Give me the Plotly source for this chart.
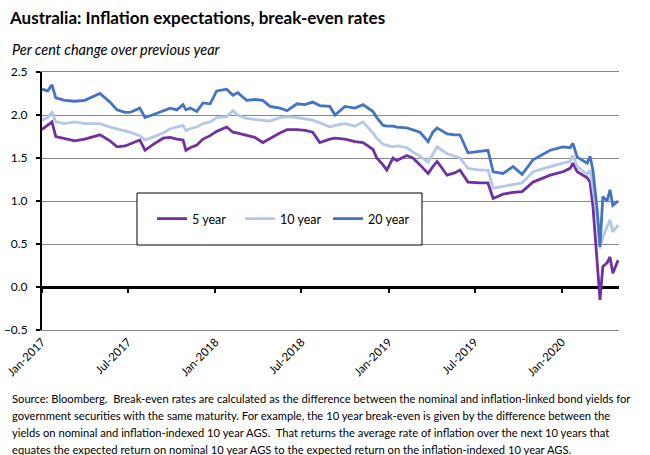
import plotly.graph_objects as go

dates = [
    "2017-01-01", "2017-01-13", "2017-01-22", "2017-01-30", "2017-02-18", "2017-03-11",
    "2017-04-01", "2017-05-03", "2017-05-24", "2017-06-08", "2017-06-25", "2017-07-05",
    "2017-07-26", "2017-08-06", "2017-08-21", "2017-09-13", "2017-09-28", "2017-10-12",
    "2017-10-25", "2017-10-31", "2017-11-09", "2017-11-23", "2017-12-06", "2017-12-21",
    "2018-01-04", "2018-01-25", "2018-02-07", "2018-02-17", "2018-03-08", "2018-03-25",
    "2018-04-11", "2018-04-26", "2018-05-17", "2018-06-01", "2018-06-22", "2018-07-09",
    "2018-07-25", "2018-08-09", "2018-08-30", "2018-09-10", "2018-10-01", "2018-10-22",
    "2018-11-08", "2018-11-29", "2018-12-07", "2018-12-20", "2018-12-28", "2019-01-10",
    "2019-01-18", "2019-02-08", "2019-02-21", "2019-03-08", "2019-03-25", "2019-04-04",
    "2019-04-13", "2019-05-04", "2019-05-21", "2019-05-31", "2019-06-17", "2019-07-12",
    "2019-07-29", "2019-08-09", "2019-08-30", "2019-09-20", "2019-10-09", "2019-11-01",
    "2019-11-22", "2019-12-07", "2020-01-03", "2020-01-18", "2020-01-24", "2020-02-02",
    "2020-02-23", "2020-02-29", "2020-03-06", "2020-03-10", "2020-03-15", "2020-03-21",
    "2020-03-27", "2020-04-05", "2020-04-11", "2020-04-17", "2020-04-28",
]

yr20 = [
    2.30, 2.28, 2.35, 2.20, 2.17, 2.16,
    2.17, 2.25, 2.15, 2.06, 2.03, 2.03,
    2.08, 1.97, 2.00, 2.05, 2.08, 2.06,
    2.12, 2.06, 2.08, 2.04, 2.14, 2.13,
    2.28, 2.30, 2.23, 2.26, 2.17, 2.18,
    2.17, 2.10, 2.08, 2.05, 2.13, 2.12,
    2.15, 2.11, 2.10, 2.00, 2.10, 2.08,
    2.12, 2.04, 1.97, 1.88, 1.87, 1.87,
    1.86, 1.85, 1.83, 1.80, 1.69, 1.80,
    1.85, 1.78, 1.77, 1.77, 1.56, 1.58,
    1.59, 1.34, 1.32, 1.40, 1.31, 1.48,
    1.55, 1.59, 1.63, 1.62, 1.67, 1.51,
    1.44, 1.52, 1.36, 1.15, 0.90, 0.47,
    1.05, 1.00, 1.13, 0.95, 1.00,
]

yr10 = [
    1.94, 1.97, 2.03, 1.92, 1.90, 1.92,
    1.90, 1.90, 1.86, 1.84, 1.81, 1.80,
    1.76, 1.71, 1.74, 1.79, 1.84, 1.86,
    1.88, 1.82, 1.84, 1.86, 1.90, 1.92,
    1.97, 1.98, 2.05, 2.00, 1.96, 1.95,
    1.94, 1.93, 1.97, 1.98, 1.97, 1.95,
    1.94, 1.91, 1.86, 1.88, 1.90, 1.87,
    1.92, 1.79, 1.73, 1.66, 1.65, 1.63,
    1.64, 1.62, 1.57, 1.52, 1.45, 1.55,
    1.63, 1.55, 1.52, 1.50, 1.38, 1.36,
    1.36, 1.15, 1.17, 1.19, 1.21, 1.34,
    1.38, 1.40, 1.44, 1.46, 1.53, 1.40,
    1.31, 1.36, 1.15, 1.00, 0.82, 0.45,
    0.58, 0.70, 0.78, 0.64, 0.72,
]

yr5 = [
    1.83, 1.88, 1.92, 1.75, 1.73, 1.70,
    1.72, 1.77, 1.70, 1.63, 1.64, 1.66,
    1.71, 1.59, 1.65, 1.73, 1.74, 1.72,
    1.71, 1.59, 1.62, 1.65, 1.72, 1.76,
    1.81, 1.86, 1.80, 1.79, 1.76, 1.74,
    1.68, 1.73, 1.79, 1.83, 1.83, 1.82,
    1.80, 1.68, 1.72, 1.73, 1.72, 1.69,
    1.68, 1.60, 1.50, 1.42, 1.36, 1.50,
    1.47, 1.53, 1.50, 1.42, 1.32, 1.40,
    1.46, 1.30, 1.33, 1.36, 1.22, 1.21,
    1.21, 1.03, 1.08, 1.10, 1.11, 1.22,
    1.27, 1.30, 1.34, 1.38, 1.44, 1.34,
    1.27, 1.22, 0.95, 0.63, 0.25, -0.15,
    0.24, 0.28, 0.35, 0.16, 0.31,
]

series_names = ["5 year", "10 year", "20 year"]
series_colors = ["#7030A0", "#B4C7E7", "#4472C4"]

tick_dates = ["2017-01-01", "2017-07-01", "2018-01-01", "2018-07-01",
              "2019-01-01", "2019-07-01", "2020-01-01"]
tick_labels = ["Jan-2017", "Jul-2017", "Jan-2018", "Jul-2018",
               "Jan-2019", "Jul-2019", "Jan-2020"]
y_ticks = [-0.5, 0.0, 0.5, 1.0, 1.5, 2.0, 2.5]

title_text = "Australia: Inflation expectations, break-even rates"
subtitle_text = "Per cent change over previous year"
source_lines = [
    "Source: Bloomberg.  Break-even rates are calculated as the difference between the nominal and inflation-linked bond yields for",
    "government securities with the same maturity. For example, the 10 year break-even is given by the difference between the",
    "yields on nominal and inflation-indexed 10 year AGS.  That returns the average rate of inflation over the next 10 years that",
    "equates the expected return on nominal 10 year AGS to the expected return on the inflation-indexed 10 year AGS.",
]

FONT = "Lato"
x_range = ["2017-01-01", "2020-04-30"]

W, H = 650, 455
PL, PT, PW, PH = 42, 72, 577, 258  # plot area in pixels


def px_x(X):  # window x -> paper x
    return (X - PL) / PW


def px_y(Y):  # window y -> paper y
    return (PT + PH - Y) / PH


fig = go.Figure()
for name, vals, col, xa in zip(series_names, [yr5, yr10, yr20], series_colors, ["x", "x", "x2"]):
    fig.add_trace(go.Scatter(x=dates, y=vals, name=name, mode="lines",
                             line=dict(color=col, width=2.8), xaxis=xa))

fig.update_layout(
    width=W, height=H,
    margin=dict(l=PL, r=W - PL - PW, t=PT, b=H - PT - PH),
    paper_bgcolor="white", plot_bgcolor="white",
    font=dict(family=FONT, color="black", size=11),
    title=dict(text="<b>" + title_text + "</b>", x=10 / W, xref="container", xanchor="left",
               y=1 - 18 / H, yref="container", yanchor="middle",
               font=dict(family=FONT, size=17, color="black")),
    xaxis=dict(type="date", range=x_range, tickvals=tick_dates, ticktext=tick_labels,
               tickangle=-45, ticks="", showgrid=False, zeroline=False,
               showline=True, linecolor="#868686", linewidth=1, mirror=True,
               automargin=False, ticklabeloverflow="allow",
               tickfont=dict(family=FONT, size=11.5, color="black")),
    xaxis2=dict(type="date", range=x_range, tickvals=tick_dates, overlaying="x",
                anchor="free", position=1 / 6, side="bottom", showticklabels=False,
                ticks="outside", ticklen=5, tickwidth=1.5, tickcolor="black",
                showgrid=False, zeroline=False, showline=False),
    yaxis=dict(range=[-0.5, 2.5], tickvals=y_ticks, tickformat=".1f",
               showgrid=True, gridcolor="#868686", gridwidth=1,
               zeroline=True, zerolinecolor="black", zerolinewidth=2.5,
               showline=True, linecolor="black", linewidth=2,
               ticks="outside", ticklen=4, tickcolor="black", tickwidth=1.5,
               ticklabelstandoff=6, automargin=False, ticklabeloverflow="allow",
               tickfont=dict(family=FONT, size=12, color="black")),
    showlegend=True,
    legend=dict(orientation="h", x=px_x(152), y=px_y(219), xanchor="left", yanchor="middle",
                bgcolor="rgba(0,0,0,0)", borderwidth=0, entrywidth=43,
                font=dict(family=FONT, size=12.5, color="black")),
)

fig.add_shape(type="rect", xref="paper", yref="paper",
              x0=px_x(137), x1=px_x(422), y0=px_y(245), y1=px_y(193),
              fillcolor="white", line=dict(color="black", width=1), layer="above")

fig.add_annotation(text="<i>" + subtitle_text + "</i>", xref="paper", yref="paper",
                   x=px_x(10), y=px_y(49), xanchor="left", yanchor="middle",
                   showarrow=False, font=dict(family=FONT, size=14.5, color="black"))

for i, line in enumerate(source_lines):
    Y = 398 + i * 17
    fig.add_annotation(text=line, xref="paper", yref="paper",
                       x=px_x(10), y=px_y(Y), xanchor="left", yanchor="middle",
                       showarrow=False, font=dict(family=FONT, size=11.2, color="black"))

fig.write_html("out.html",
               config={"displayModeBar": False},
               post_script="document.body.style.margin='0px';document.body.style.padding='0px';")
